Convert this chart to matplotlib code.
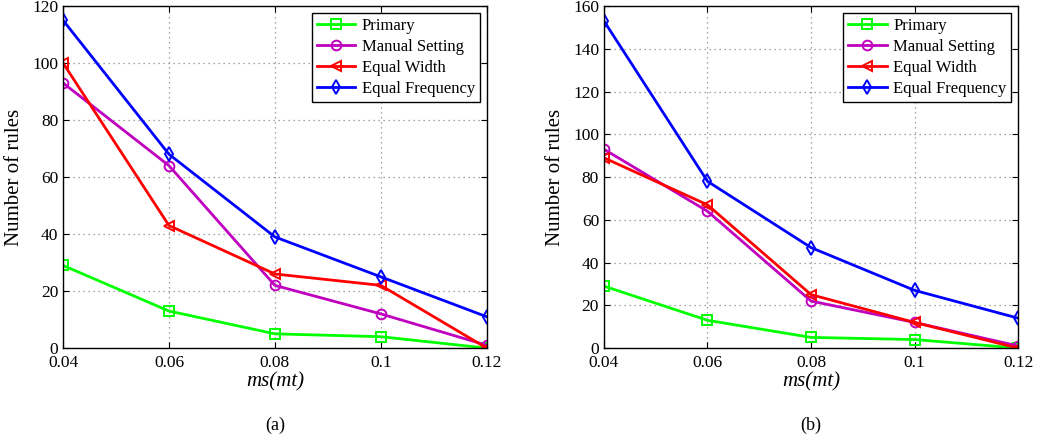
import matplotlib
matplotlib.use("Agg")
import matplotlib.pyplot as plt

plt.rcParams['font.family'] = ['Liberation Serif', 'DejaVu Serif']
plt.rcParams['mathtext.fontset'] = 'stix'

x_vals = [0.04, 0.06, 0.08, 0.1, 0.12]
x_ticklabels = ['0.04', '0.06', '0.08', '0.1', '0.12']
series_names = ['Primary', 'Manual Setting', 'Equal Width', 'Equal Frequency']

a_primary = [29, 13, 5, 4, 0]
a_manual = [93, 64, 22, 12, 1]
a_width = [100, 43, 26, 22, 0]
a_freq = [115, 68, 39, 25, 11]

b_primary = [29, 13, 5, 4, 0]
b_manual = [93, 64, 22, 12, 1]
b_width = [89, 67, 25, 12, 0]
b_freq = [153, 78, 47, 27, 14]

styles = [
    dict(color='#00ff00', marker='s'),
    dict(color='#bf00bf', marker='o'),
    dict(color='#ff0000', marker='<'),
    dict(color='#0000ff', marker='d'),
]

fig = plt.figure(figsize=(10.54, 4.44), dpi=100)
ax1 = fig.add_axes([0.0598, 0.216, 0.402, 0.7705])
ax2 = fig.add_axes([0.573, 0.216, 0.393, 0.7705])

def draw(ax, data, ymax, yticks, caption):
    for name, vals, st in zip(series_names, data, styles):
        ax.plot(x_vals, vals, color=st['color'], marker=st['marker'], lw=2,
                markersize=7, markerfacecolor='none', markeredgecolor=st['color'],
                markeredgewidth=1.4, label=name)
    ax.set_xlim(0.04, 0.12)
    ax.set_ylim(0, ymax)
    ax.set_xticks(x_vals)
    ax.set_xticklabels(x_ticklabels)
    ax.set_yticks(yticks)
    ax.tick_params(direction='in', top=True, right=True, labelsize=12.5, length=4)
    ax.tick_params(axis='x', pad=5)
    ax.grid(True, linestyle=(0, (1, 3)), color='#888888', linewidth=0.9)
    ax.set_ylabel('Number of rules', fontsize=15, labelpad=6)
    ax.set_xlabel('ms(mt)', fontsize=15, style='italic', labelpad=1)
    for s in ax.spines.values():
        s.set_linewidth(1.0)
    leg = ax.legend(loc='upper right', fontsize=12, fancybox=False, framealpha=1,
                    edgecolor='black', borderaxespad=0.4, handlelength=2.3,
                    labelspacing=0.3, borderpad=0.3, handletextpad=0.4)
    leg.get_frame().set_linewidth(1.0)
    ax.text(0.5, -0.226, caption, transform=ax.transAxes, ha='center', va='center', fontsize=13)

draw(ax1, [a_primary, a_manual, a_width, a_freq], 120, [0, 20, 40, 60, 80, 100, 120], '(a)')
draw(ax2, [b_primary, b_manual, b_width, b_freq], 160, [0, 20, 40, 60, 80, 100, 120, 140, 160], '(b)')

fig.savefig('out.png', dpi=100)
